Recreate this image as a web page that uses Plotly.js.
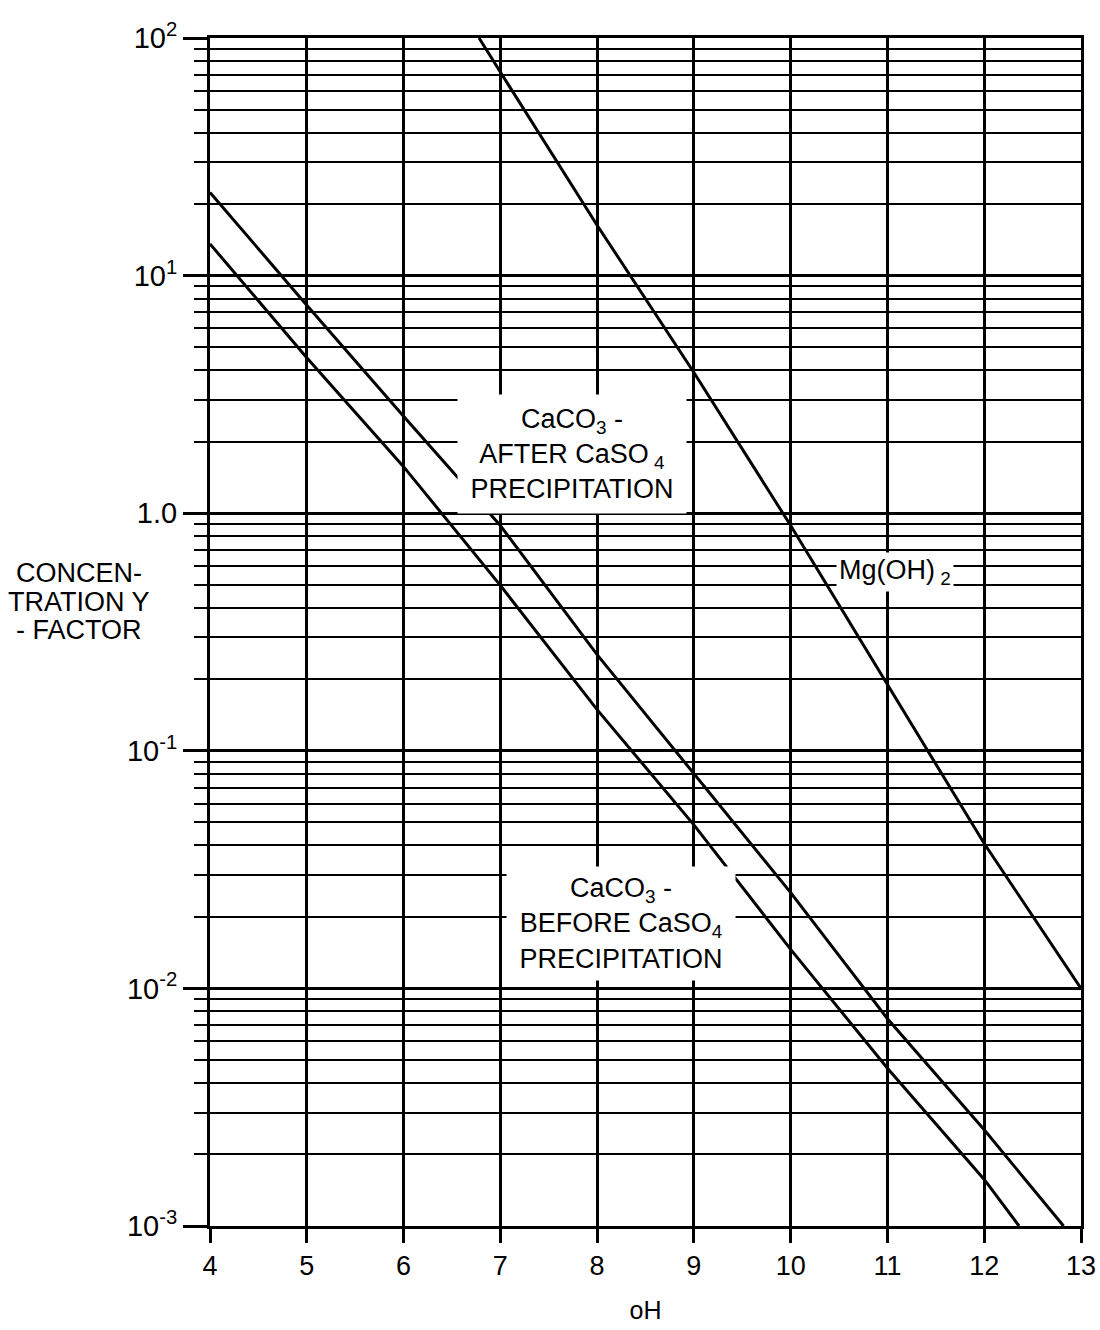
<!DOCTYPE html>
<html>
<head>
<meta charset="utf-8">
<script src="https://cdn.plot.ly/plotly-3.0.1.min.js"></script>
<style>
  html, body { margin: 0; padding: 0; background: #ffffff; }
  #chart { width: 1100px; height: 1330px; }
</style>
</head>
<body>
<div id="chart"></div>
<script>
// pH values and concentration factors
const phMg = [6.78, 7, 8, 9, 10, 11, 12, 13];
const mgOH2 = [100, 71.9, 16.3, 3.91, 0.887, 0.190, 0.0407, 0.0100];

const phAfter = [4, 5, 6, 7, 8, 9, 10, 11, 12, 12.82];
const caco3After = [22.4, 7.50, 2.56, 0.887, 0.254, 0.0804, 0.0253, 0.00745, 0.00254, 0.001];

const phBefore = [4, 5, 6, 7, 8, 9, 10, 11, 12, 12.36];
const caco3Before = [13.6, 4.51, 1.57, 0.497, 0.149, 0.0488, 0.0146, 0.00461, 0.00157, 0.001];

const xTicks = [4, 5, 6, 7, 8, 9, 10, 11, 12, 13];
const yTickVals = [0.001, 0.01, 0.1, 1, 10, 100];
const yTickText = ['10<sup>-3</sup>', '10<sup>-2</sup>', '10<sup>-1</sup>', '1.0', '10<sup>1</sup>', '10<sup>2</sup>'];

const FONT = '"Liberation Sans", Arial, Helvetica, sans-serif';

const lineStyle = { color: '#000', width: 3 };
const traces = [
  { x: phMg, y: mgOH2, mode: 'lines', line: lineStyle, name: 'Mg(OH)2', showlegend: false, hoverinfo: 'skip' },
  { x: phAfter, y: caco3After, mode: 'lines', line: lineStyle, name: 'CaCO3 - after CaSO4 precipitation', showlegend: false, hoverinfo: 'skip' },
  { x: phBefore, y: caco3Before, mode: 'lines', line: lineStyle, name: 'CaCO3 - before CaSO4 precipitation', showlegend: false, hoverinfo: 'skip' }
];

const boxFont = { family: FONT, size: 27, color: '#000' };
const titleFont = { family: FONT, size: 27, color: '#000' };
const annotations = [
  { xref: 'paper', yref: 'paper', x: 0.4156, y: 0.6498, xanchor: 'center', yanchor: 'middle',
    text: 'CaCO<sub>3</sub> -<br>AFTER CaSO<sub> 4</sub><br>PRECIPITATION',
    showarrow: false, bgcolor: '#fff', borderpad: 0, width: 228, height: 118, align: 'center', font: boxFont },
  { xref: 'paper', yref: 'paper', x: 0.7865, y: 0.5505, xanchor: 'center', yanchor: 'middle',
    text: 'Mg(OH)<sub> 2</sub>',
    showarrow: false, bgcolor: '#fff', borderpad: 0, width: 116, height: 38, align: 'center', font: boxFont },
  { xref: 'paper', yref: 'paper', x: 0.4719, y: 0.255, xanchor: 'center', yanchor: 'middle',
    text: 'CaCO<sub>3</sub> -<br>BEFORE CaSO<sub>4</sub><br>PRECIPITATION',
    showarrow: false, bgcolor: '#fff', borderpad: 0, width: 228, height: 113, align: 'center', font: boxFont },
  { xref: 'paper', yref: 'paper', x: -0.1504, y: 0.5497, xanchor: 'center', yanchor: 'middle',
    text: 'CONCEN-', showarrow: false, font: titleFont },
  { xref: 'paper', yref: 'paper', x: -0.1504, y: 0.5253, xanchor: 'center', yanchor: 'middle',
    text: 'TRATION Y', showarrow: false, font: titleFont },
  { xref: 'paper', yref: 'paper', x: -0.1504, y: 0.5017, xanchor: 'center', yanchor: 'middle',
    text: '- FACTOR', showarrow: false, font: titleFont }
];

const layout = {
  width: 1100, height: 1330,
  margin: { l: 210, r: 19, t: 38, b: 104 },
  paper_bgcolor: '#fff', plot_bgcolor: '#fff',
  font: { family: FONT, color: '#000' },
  xaxis: {
    range: [4, 13], tickmode: 'array', tickvals: xTicks, ticktext: xTicks.map(String),
    ticks: 'outside', ticklen: 14, tickwidth: 3, tickcolor: '#000',
    showgrid: true, gridcolor: '#000', gridwidth: 3,
    showline: true, linecolor: '#000', linewidth: 3, mirror: true,
    zeroline: false, tickfont: { family: FONT, size: 27, color: '#000' },
    title: { text: 'oH', font: { family: FONT, size: 25, color: '#000' }, standoff: 22 }
  },
  yaxis: {
    type: 'log', range: [-3, 2], tickmode: 'array', tickvals: yTickVals, ticktext: yTickText,
    ticks: 'outside', ticklen: 24, tickwidth: 3, tickcolor: '#000',
    showgrid: true, gridcolor: '#000', gridwidth: 3,
    showline: true, linecolor: '#000', linewidth: 3, mirror: true,
    zeroline: false, tickfont: { family: FONT, size: 29, color: '#000' },
    minor: { dtick: 'D1', showgrid: true, gridcolor: '#000', gridwidth: 2,
             ticks: 'outside', ticklen: 13, tickwidth: 2, tickcolor: '#000' }
  },
  annotations: annotations,
  showlegend: false
};

Plotly.newPlot('chart', traces, layout, { staticPlot: true, displayModeBar: false });
</script>
</body>
</html>
